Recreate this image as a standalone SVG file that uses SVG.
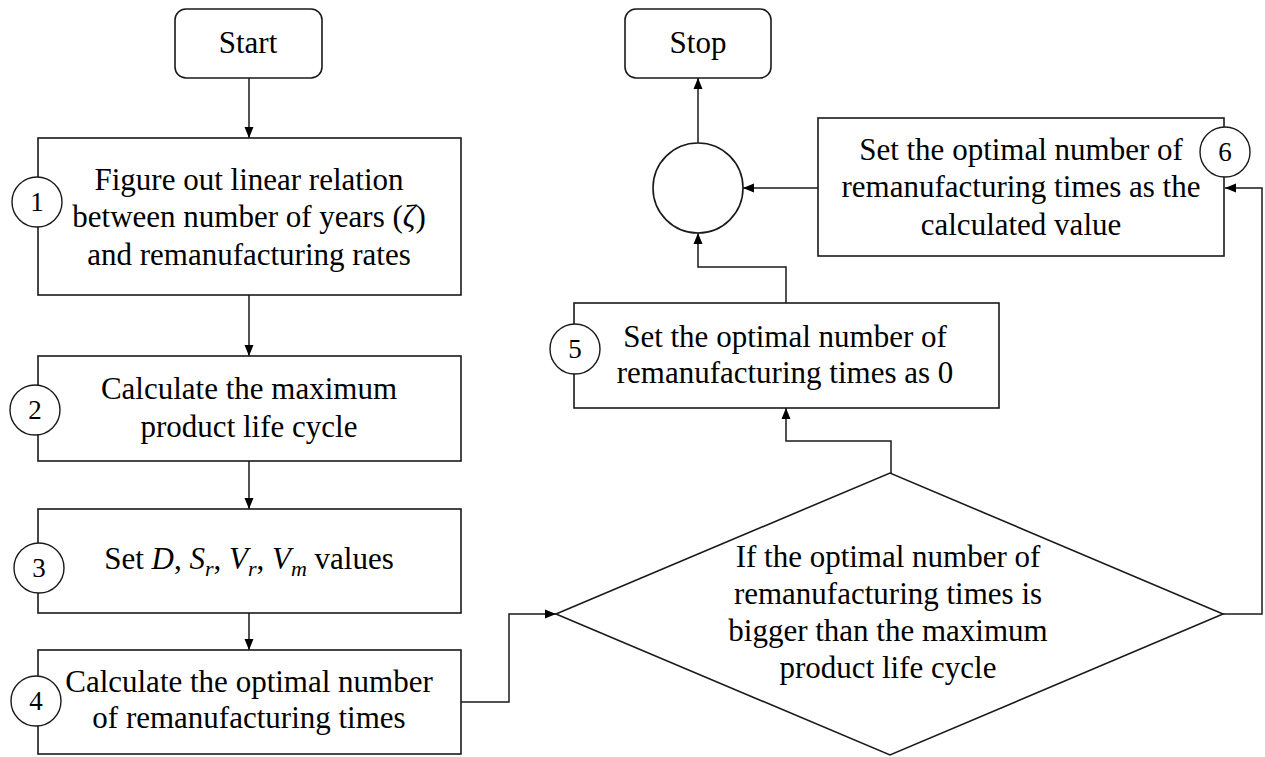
<svg xmlns="http://www.w3.org/2000/svg" width="1265" height="757" viewBox="0 0 1265 757">
<defs>
<marker id="arr" markerUnits="userSpaceOnUse" markerWidth="12" markerHeight="10" refX="11" refY="5" orient="auto">
<path d="M0,0.5 L11,5 L0,9.5 z" fill="#000"/>
</marker>
<style>
.box{fill:#fff;stroke:#1a1a1a;stroke-width:1.6}
.num{fill:#fff;stroke:#1a1a1a;stroke-width:1.4}
.t{font-family:"Liberation Serif","Times New Roman",serif;font-size:31px;fill:#000;text-anchor:middle}
.n{font-family:"Liberation Serif","Times New Roman",serif;font-size:27px;fill:#000;text-anchor:middle}
.c{fill:none;stroke:#1a1a1a;stroke-width:1.5}
.i{font-style:italic}
.s{font-style:italic;font-size:22px}
</style>
</defs>
<rect width="1265" height="757" fill="#fff"/>
<g id="connectors">
<path class="c" d="M249,78 V138" marker-end="url(#arr)"/>
<path class="c" d="M249,295 V356" marker-end="url(#arr)"/>
<path class="c" d="M249,461 V509" marker-end="url(#arr)"/>
<path class="c" d="M249,613 V650" marker-end="url(#arr)"/>
<path class="c" d="M461,702 H509 V614 H556" marker-end="url(#arr)"/>
<path class="c" d="M891,473 V441 H786 V408" marker-end="url(#arr)"/>
<path class="c" d="M786,303 V267 H698 V233" marker-end="url(#arr)"/>
<path class="c" d="M698,143 V78" marker-end="url(#arr)"/>
<path class="c" d="M1223,614 H1262 V188 H1225" marker-end="url(#arr)"/>
<path class="c" d="M818,188 H743" marker-end="url(#arr)"/>
</g>
<g id="start">
<rect class="box" x="175" y="9" width="147" height="69" rx="11"/>
<text class="t" x="248" y="53">Start</text>
</g>
<g id="step1">
<rect class="box" x="38" y="138" width="423" height="157"/>
<circle class="num" cx="37" cy="202" r="25"/>
<text class="n" x="37" y="211">1</text>
<text class="t" x="249" y="190">Figure out linear  relation</text>
<text class="t" x="249" y="227">between number of years (<tspan class="i">ζ</tspan>)</text>
<text class="t" x="249" y="265">and remanufacturing  rates</text>
</g>
<g id="step2">
<rect class="box" x="38" y="356" width="423" height="105"/>
<circle class="num" cx="35" cy="410" r="25"/>
<text class="n" x="35" y="419">2</text>
<text class="t" x="249" y="399">Calculate  the maximum</text>
<text class="t" x="249" y="437">product life  cycle</text>
</g>
<g id="step3">
<rect class="box" x="38" y="509" width="423" height="104"/>
<circle class="num" cx="39" cy="568" r="25"/>
<text class="n" x="39" y="577">3</text>
<text class="t" x="249" y="569">Set <tspan class="i">D</tspan>, <tspan class="i">S</tspan><tspan class="s" dy="7">r</tspan><tspan dy="-7">, </tspan><tspan class="i">V</tspan><tspan class="s" dy="7">r</tspan><tspan dy="-7">, </tspan><tspan class="i">V</tspan><tspan class="s" dy="7">m</tspan><tspan dy="-7"> values</tspan></text>
</g>
<g id="step4">
<rect class="box" x="38" y="650" width="423" height="104"/>
<circle class="num" cx="36" cy="701" r="25"/>
<text class="n" x="36" y="710">4</text>
<text class="t" x="249" y="692">Calculate  the optimal number</text>
<text class="t" x="249" y="728">of remanufacturing  times</text>
</g>
<g id="decision">
<polygon class="box" points="556,614 890,473 1223,614 890,755"/>
<text class="t" x="888" y="567">If the optimal  number of</text>
<text class="t" x="888" y="604">remanufacturing  times is</text>
<text class="t" x="888" y="641">bigger than the maximum</text>
<text class="t" x="888" y="678">product life  cycle</text>
</g>
<g id="step5">
<rect class="box" x="574" y="303" width="425" height="105"/>
<circle class="num" cx="575" cy="349" r="25"/>
<text class="n" x="575" y="358">5</text>
<text class="t" x="785" y="347">Set the optimal  number of</text>
<text class="t" x="785" y="383">remanufacturing  times as 0</text>
</g>
<g id="step6">
<rect class="box" x="818" y="118" width="406" height="138"/>
<circle class="num" cx="1225" cy="152" r="25"/>
<text class="n" x="1225" y="161">6</text>
<text class="t" x="1021" y="160">Set the optimal  number of</text>
<text class="t" x="1021" y="197">remanufacturing  times as the</text>
<text class="t" x="1021" y="235">calculated  value</text>
</g>
<g id="merge">
<circle class="box" cx="698" cy="188" r="45"/>
</g>
<g id="stop">
<rect class="box" x="625" y="9" width="146" height="69" rx="11"/>
<text class="t" x="698" y="53">Stop</text>
</g>
</svg>
